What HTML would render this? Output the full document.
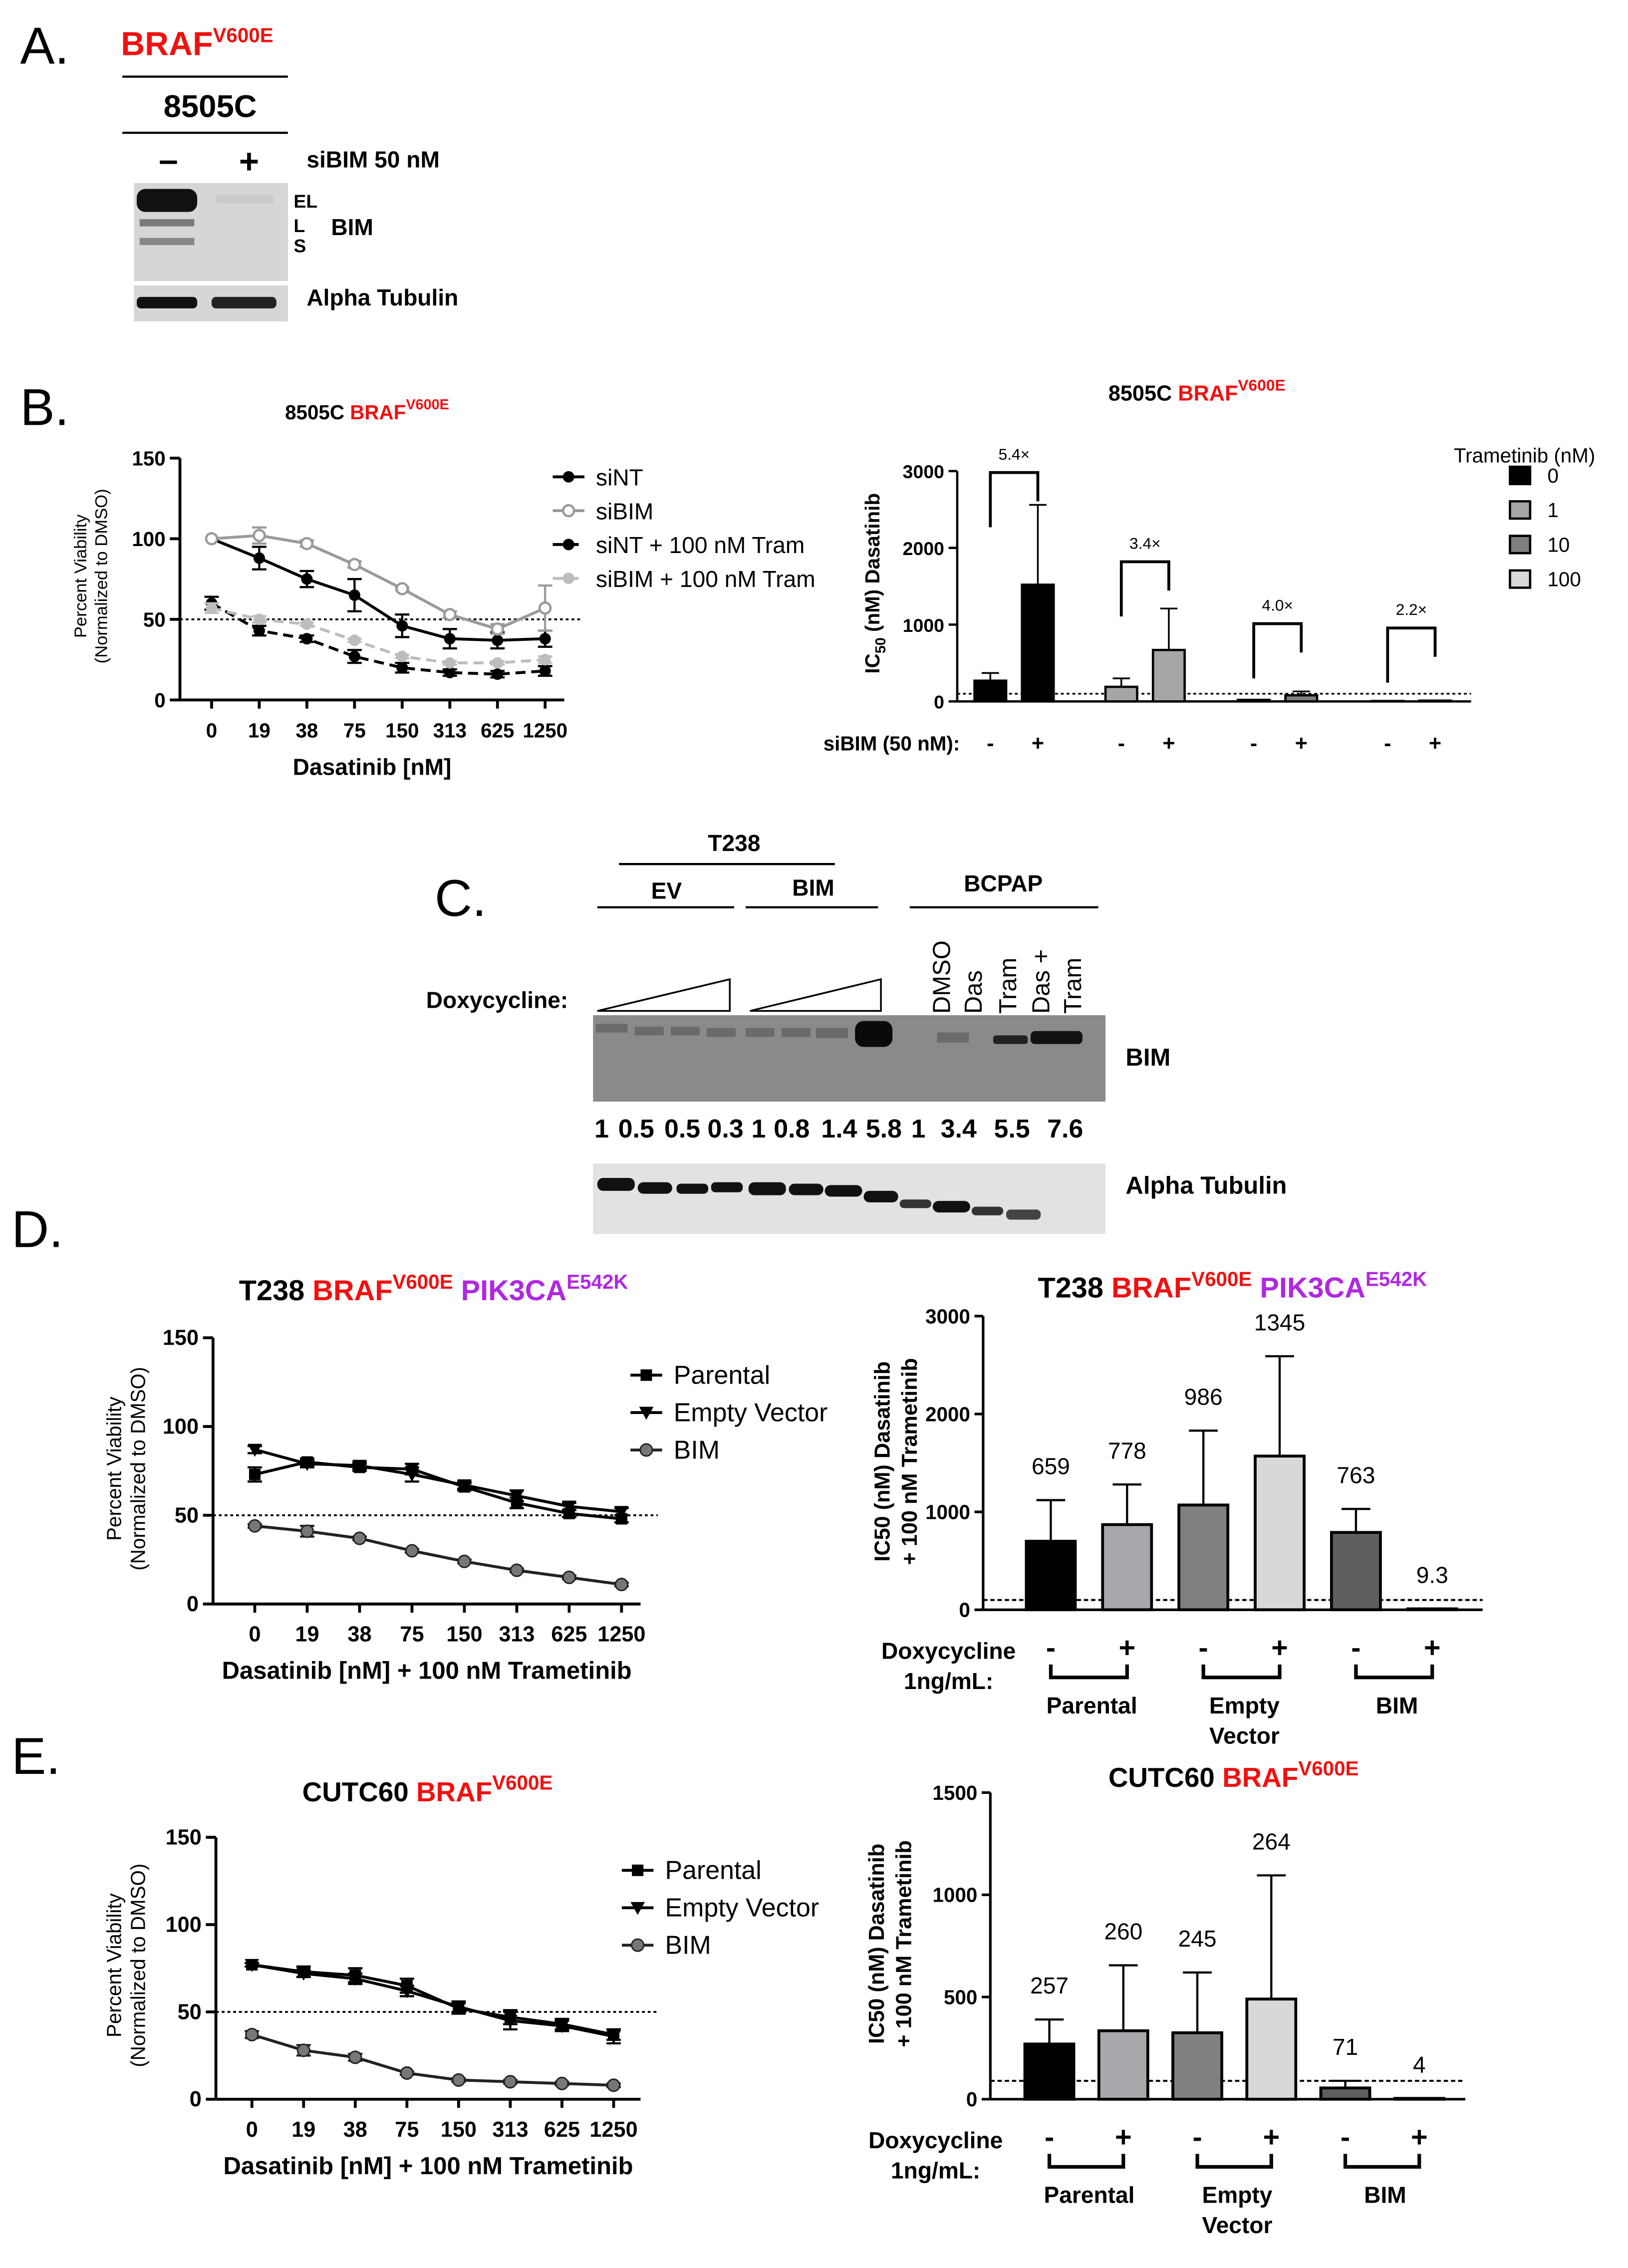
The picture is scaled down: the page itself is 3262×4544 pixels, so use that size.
<!DOCTYPE html>
<html><head><meta charset="utf-8"><style>
html,body{margin:0;padding:0;background:#fff}
svg{display:block}
text{font-family:"Liberation Sans",Arial,sans-serif}
.b{font-weight:bold}
</style></head><body>
<svg id="fig" xmlns="http://www.w3.org/2000/svg" width="3262" height="4544" viewBox="0 0 1131 1575">
<rect width="1131" height="1575" fill="#fff"/>
<!-- Panel A -->
<g>
<text x="14" y="44" font-size="36">A.</text>
<text x="84" y="38" font-size="23" class="b" fill="#f01010">BRAF<tspan font-size="14" dy="-9">V600E</tspan></text>
<line x1="85" y1="53" x2="200" y2="53" stroke="#000" stroke-width="1.5"/>
<text x="146" y="81" font-size="22" class="b" text-anchor="middle">8505C</text>
<line x1="85" y1="92" x2="200" y2="92" stroke="#000" stroke-width="1.5"/>
<text x="117" y="119" font-size="24" class="b" text-anchor="middle">–</text>
<text x="173" y="120" font-size="24" class="b" text-anchor="middle">+</text>
<text x="213" y="116" font-size="16" class="b">siBIM 50 nM</text>
<rect x="93" y="127" width="107" height="68" fill="#d6d6d6"/>
<rect x="95" y="131" width="42" height="16" rx="6" fill="#111"/>
<rect x="97" y="152" width="38" height="5" fill="#7a7a7a"/>
<rect x="97" y="165" width="38" height="5" fill="#888"/>
<rect x="150" y="135" width="40" height="6" fill="#cacaca"/>
<text x="204" y="144" font-size="13" class="b">EL</text>
<text x="204" y="161" font-size="13" class="b">L</text>
<text x="204" y="175" font-size="13" class="b">S</text>
<text x="230" y="163" font-size="16" class="b">BIM</text>
<rect x="93" y="198" width="107" height="25" fill="#d6d6d6"/>
<rect x="95" y="206" width="42" height="8" rx="3" fill="#111"/>
<rect x="147" y="206" width="45" height="8" rx="3" fill="#222"/>
<text x="213" y="212" font-size="16" class="b">Alpha Tubulin</text>
</g>
<!-- Panel B labels -->
<text x="14" y="295" font-size="36">B.</text>
<text x="198" y="291" font-size="14" class="b">8505C <tspan fill="#f01010">BRAF<tspan font-size="10" dy="-7">V600E</tspan></tspan></text>
<text x="770" y="278" font-size="15" class="b">8505C <tspan fill="#f01010">BRAF<tspan font-size="11" dy="-7">V600E</tspan></tspan></text>
<!-- Panel C -->
<g>
<text x="302" y="636" font-size="36">C.</text>
<text x="510" y="591" font-size="16" class="b" text-anchor="middle">T238</text>
<line x1="430" y1="600" x2="580" y2="600" stroke="#000" stroke-width="1.5"/>
<text x="463" y="624" font-size="16" class="b" text-anchor="middle">EV</text>
<line x1="415" y1="630" x2="510" y2="630" stroke="#000" stroke-width="1.5"/>
<text x="565" y="622" font-size="16" class="b" text-anchor="middle">BIM</text>
<line x1="518" y1="630" x2="610" y2="630" stroke="#000" stroke-width="1.5"/>
<text x="697" y="619" font-size="16" class="b" text-anchor="middle">BCPAP</text>
<line x1="632" y1="630" x2="763" y2="630" stroke="#000" stroke-width="1.5"/>
<text x="296" y="700" font-size="16" class="b">Doxycycline:</text>
<polygon points="415,702 507,702 507,680" fill="none" stroke="#000" stroke-width="1.2"/>
<polygon points="521,702 612,702 612,680" fill="none" stroke="#000" stroke-width="1.2"/>
<g font-size="17">
<text transform="translate(660,704) rotate(-90)">DMSO</text>
<text transform="translate(682,704) rotate(-90)">Das</text>
<text transform="translate(706,704) rotate(-90)">Tram</text>
<text transform="translate(729,704) rotate(-90)">Das +</text>
<text transform="translate(751,704) rotate(-90)">Tram</text>
</g>
<rect x="412" y="705" width="356" height="60" fill="#8a8a8a"/>
<g fill="#6a6a6a">
<rect x="414" y="711" width="22" height="6"/><rect x="441" y="713" width="20" height="6"/><rect x="466" y="713" width="20" height="6"/><rect x="491" y="714" width="20" height="6"/>
<rect x="518" y="714" width="20" height="6"/><rect x="543" y="714" width="20" height="6"/><rect x="567" y="714" width="22" height="7"/>
<rect x="651" y="717" width="22" height="7"/>
</g>
<rect x="594" y="709" width="26" height="18" rx="6" fill="#0a0a0a"/>
<rect x="690" y="719" width="24" height="6" rx="2" fill="#222"/>
<rect x="716" y="716" width="36" height="9" rx="3" fill="#111"/>
<g font-size="18" class="b" text-anchor="middle">
<text x="418" y="790">1</text><text x="442" y="790">0.5</text><text x="474" y="790">0.5</text><text x="504" y="790">0.3</text>
<text x="527" y="790">1</text><text x="550" y="790">0.8</text><text x="583" y="790">1.4</text><text x="614" y="790">5.8</text>
<text x="638" y="790">1</text><text x="666" y="790">3.4</text><text x="703" y="790">5.5</text><text x="740" y="790">7.6</text>
</g>
<text x="782" y="740" font-size="17" class="b">BIM</text>
<rect x="412" y="808" width="356" height="49" fill="#e2e2e2"/>
<g fill="#111">
<rect x="415" y="818" width="26" height="9" rx="4"/><rect x="443" y="821" width="24" height="8" rx="4"/><rect x="470" y="822" width="22" height="7" rx="3"/><rect x="494" y="821" width="22" height="7" rx="3"/>
<rect x="520" y="821" width="26" height="9" rx="4"/><rect x="548" y="822" width="24" height="8" rx="4"/><rect x="573" y="823" width="26" height="8" rx="4"/><rect x="600" y="827" width="24" height="8" rx="4"/>
<rect x="625" y="833" width="22" height="6" rx="3" fill="#333"/><rect x="648" y="834" width="26" height="8" rx="4"/><rect x="675" y="838" width="22" height="6" rx="3" fill="#333"/><rect x="699" y="840" width="24" height="7" rx="3" fill="#444"/>
</g>
<text x="782" y="829" font-size="17" class="b">Alpha Tubulin</text>
</g>
<!-- Panel D/E labels -->
<text x="8" y="866" font-size="36">D.</text>
<text x="166" y="903" font-size="20" class="b">T238 <tspan fill="#f01010">BRAF<tspan font-size="14" dy="-8">V600E</tspan></tspan><tspan dy="8"> </tspan><tspan fill="#b028e0">PIK3CA<tspan font-size="14" dy="-8">E542K</tspan></tspan></text>
<text x="721" y="901" font-size="20" class="b">T238 <tspan fill="#f01010">BRAF<tspan font-size="14" dy="-8">V600E</tspan></tspan><tspan dy="8"> </tspan><tspan fill="#b028e0">PIK3CA<tspan font-size="14" dy="-8">E542K</tspan></tspan></text>
<text x="8" y="1232" font-size="36">E.</text>
<text x="210" y="1251" font-size="19" class="b">CUTC60 <tspan fill="#f01010">BRAF<tspan font-size="14" dy="-8">V600E</tspan></tspan></text>
<text x="770" y="1241" font-size="19" class="b">CUTC60 <tspan fill="#f01010">BRAF<tspan font-size="14" dy="-8">V600E</tspan></tspan></text>
<g id="charts"></g>
</svg>
<script>
// ---------- DATA ----------
const doseLabels = ["0","19","38","75","150","313","625","1250"];
// Panel B left
const bSeriesNames = ["siNT","siBIM","siNT + 100 nM Tram","siBIM + 100 nM Tram"];
const bSiNT = [100,88,75,65,46,38,37,38];
const bSiBIM = [100,102,97,84,69,53,44,57];
const bSiNTTram = [60,43,38,27,20,17,16,18];
const bSiBIMTram = [57,50,47,37,27,23,23,25];
const bSiNTErr = [0,7,5,10,7,6,5,5];
const bSiBIMErr = [0,5,2,2,1,2,3,14];
const bSiNTTramErr = [4,3,2,4,3,2,2,3];
const bSiBIMTramErr = [3,2,1,1,1,1,1,2];
const bYTicks = [0,50,100,150];
// Panel B right
const bBarGroups = ["0","1","10","100"];
const bBarNeg = [270,190,20,5];
const bBarPos = [1520,670,80,10];
const bBarNegErr = [100,110,0,0];
const bBarPosErr = [1040,540,50,0];
const bFolds = ["5.4×","3.4×","4.0×","2.2×"];
const bBarTicks = [0,1000,2000,3000];
// Panel D
const legendNames = ["Parental","Empty Vector","BIM"];
const dParental = [73,80,77,76,66,57,51,48];
const dEV = [87,79,78,73,67,61,55,52];
const dBIM = [44,41,37,30,24,19,15,11];
const dParentalErr = [4,2,2,3,2,3,2,2];
const dEVErr = [2,2,2,4,2,3,2,2];
const dBIMErr = [1,3,1,1,1,1,1,1];
const dBarValues = [700,870,1070,1570,790,9.3];
const dBarErr = [420,410,760,1020,240,0];
const dBarLabels = ["659","778","986","1345","763","9.3"];
const dBarTicks = [0,1000,2000,3000];
// Panel E
const eParental = [77,73,71,65,52,47,43,37];
const eEV = [77,72,69,62,53,45,42,36];
const eBIM = [37,28,24,15,11,10,9,8];
const eParentalErr = [1,3,4,4,3,4,3,3];
const eEVErr = [1,2,3,3,3,5,3,4];
const eBIMErr = [2,3,2,1,1,1,1,1];
const eBarValues = [270,335,325,490,55,4];
const eBarErr = [120,320,295,605,35,0];
const eBarLabels = ["257","260","245","264","71","4"];
const eBarTicks = [0,500,1000,1500];
const dxSigns = ["-","+","-","+","-","+"];

const NS = "http://www.w3.org/2000/svg";
const root = document.getElementById("charts");
function mk(parent, tag, attrs, name) {
  const el = document.createElementNS(NS, tag);
  for (const k in attrs) el.setAttribute(k, attrs[k]);
  
  
  parent.appendChild(el);
  return el;
}
function txt(parent, x, y, s, size, name, opts) {
  const a = Object.assign({x: x, y: y, "font-size": size}, opts || {});
  const t = mk(parent, "text", a, name);
  t.textContent = s;
  return t;
}
function marker(g, shape, x, y, color, name) {
  if (shape === "circle") mk(g, "circle", {cx: x, cy: y, r: 4, fill: color}, name);
  else if (shape === "open") mk(g, "circle", {cx: x, cy: y, r: 3.8, fill: "#fff", stroke: color, "stroke-width": 1.6}, name);
  else if (shape === "square") mk(g, "rect", {x: x-4, y: y-4, width: 8, height: 8, fill: color}, name);
  else if (shape === "tri") mk(g, "polygon", {points: (x-5)+","+(y-4)+" "+(x+5)+","+(y-4)+" "+x+","+(y+5), fill: color}, name);
  else if (shape === "gcircle") { mk(g, "circle", {cx: x, cy: y, r: 4.2, fill: "#777", stroke: "#222", "stroke-width": 1}, name); }
}

function lineChart(cfg) {
  const g = mk(root, "g", {}, cfg.name);
  const xS = i => cfg.x0 + i * cfg.dx;
  const yS = v => cfg.y0 - v * cfg.ky;
  mk(g, "line", {x1: cfg.ax, y1: yS(150), x2: cfg.ax, y2: cfg.y0, stroke: "#000", "stroke-width": 2}, "y-axis");
  mk(g, "line", {x1: cfg.ax, y1: cfg.y0, x2: cfg.axEnd, y2: cfg.y0, stroke: "#000", "stroke-width": 2}, "x-axis");
  bYTicks.forEach(t => {
    mk(g, "line", {x1: cfg.ax - 7, y1: yS(t), x2: cfg.ax, y2: yS(t), stroke: "#000", "stroke-width": 2}, "y-tick");
    txt(g, cfg.ax - 10, yS(t) + 5, String(t), cfg.tf, "y-tick-label", {"text-anchor": "end", "font-weight": "bold"});
  });
  doseLabels.forEach((l, i) => {
    mk(g, "line", {x1: xS(i), y1: cfg.y0, x2: xS(i), y2: cfg.y0 + 6, stroke: "#000", "stroke-width": 2}, "x-tick");
    txt(g, xS(i), cfg.y0 + 26, l, cfg.tf, "x-tick-label", {"text-anchor": "middle", "font-weight": "bold"});
  });
  mk(g, "line", {x1: cfg.ax, y1: yS(50), x2: cfg.axEnd + 12, y2: yS(50), stroke: "#000", "stroke-width": 1.3, "stroke-dasharray": "2,2"}, "threshold-line-50");
  txt(g, (cfg.ax + cfg.axEnd) / 2, cfg.y0 + 52, cfg.xlabel, cfg.xf, "x-axis-title", {"text-anchor": "middle", "font-weight": "bold"});
  const yl = mk(g, "text", {transform: "translate(" + cfg.ylx + "," + cfg.yly + ") rotate(-90)", "font-size": cfg.yf, "text-anchor": "middle"}, "y-axis-title");
  yl.innerHTML = '<tspan x="0" dy="0">Percent Viability</tspan><tspan x="0" dy="' + (cfg.yf * 1.2) + '">(Normalized to DMSO)</tspan>';
  cfg.series.forEach((s, si) => {
    const sg = mk(g, "g", {}, "series-" + s.key);
    const pts = s.vals.map((v, i) => xS(i) + "," + yS(v)).join(" ");
    mk(sg, "polyline", {points: pts, fill: "none", stroke: s.color, "stroke-width": 2, "stroke-dasharray": s.dash || "none"}, "series-line");
    s.vals.forEach((v, i) => {
      const e = s.err[i];
      if (e > 0) {
        mk(sg, "line", {x1: xS(i), y1: yS(v + e), x2: xS(i), y2: yS(v - e), stroke: s.color, "stroke-width": 1.5}, "error-bar");
        mk(sg, "line", {x1: xS(i) - 5, y1: yS(v + e), x2: xS(i) + 5, y2: yS(v + e), stroke: s.color, "stroke-width": 1.5}, "error-cap");
        mk(sg, "line", {x1: xS(i) - 5, y1: yS(v - e), x2: xS(i) + 5, y2: yS(v - e), stroke: s.color, "stroke-width": 1.5}, "error-cap");
      }
      marker(sg, s.shape, xS(i), yS(v), s.color, "data-point");
    });
    const ly = cfg.legY + si * cfg.legDy;
    const lg = mk(g, "g", {}, "legend-entry");
    mk(lg, "line", {x1: cfg.legX, y1: ly, x2: cfg.legX + 22, y2: ly, stroke: s.color, "stroke-width": 2, "stroke-dasharray": s.dash || "none"}, "legend-line");
    marker(lg, s.shape, cfg.legX + 11, ly, s.color, "legend-marker");
    txt(lg, cfg.legX + 30, ly + 6, s.name, cfg.lf, "legend-label");
  });
}

lineChart({name: "b-viability-chart", x0: 147, dx: 33.1, y0: 486, ky: 1.12, ax: 125, axEnd: 392, tf: 14, xf: 16, yf: 12, ylx: 60, yly: 400,
  xlabel: "Dasatinib [nM]", legX: 384, legY: 331, legDy: 23.5, lf: 16,
  series: [
    {key: "sint", name: bSeriesNames[0], vals: bSiNT, err: bSiNTErr, color: "#000", shape: "circle"},
    {key: "sibim", name: bSeriesNames[1], vals: bSiBIM, err: bSiBIMErr, color: "#9a9a9a", shape: "open"},
    {key: "sint-tram", name: bSeriesNames[2], vals: bSiNTTram, err: bSiNTTramErr, color: "#000", shape: "circle", dash: "7,4"},
    {key: "sibim-tram", name: bSeriesNames[3], vals: bSiBIMTram, err: bSiBIMTramErr, color: "#bdbdbd", shape: "circle", dash: "7,4"}
  ]});
lineChart({name: "d-viability-chart", x0: 177, dx: 36.4, y0: 1114, ky: 1.233, ax: 148, axEnd: 445, tf: 15, xf: 17, yf: 14, ylx: 84, yly: 1020,
  xlabel: "Dasatinib [nM] + 100 nM Trametinib", legX: 438, legY: 955, legDy: 26, lf: 18,
  series: [
    {key: "parental", name: legendNames[0], vals: dParental, err: dParentalErr, color: "#000", shape: "square"},
    {key: "empty-vector", name: legendNames[1], vals: dEV, err: dEVErr, color: "#000", shape: "tri"},
    {key: "bim", name: legendNames[2], vals: dBIM, err: dBIMErr, color: "#222", shape: "gcircle"}
  ]});
lineChart({name: "e-viability-chart", x0: 175, dx: 35.9, y0: 1458, ky: 1.213, ax: 150, axEnd: 445, tf: 15, xf: 17, yf: 14, ylx: 84, yly: 1365,
  xlabel: "Dasatinib [nM] + 100 nM Trametinib", legX: 432, legY: 1299, legDy: 26, lf: 18,
  series: [
    {key: "parental", name: legendNames[0], vals: eParental, err: eParentalErr, color: "#000", shape: "square"},
    {key: "empty-vector", name: legendNames[1], vals: eEV, err: eEVErr, color: "#000", shape: "tri"},
    {key: "bim", name: legendNames[2], vals: eBIM, err: eBIMErr, color: "#222", shape: "gcircle"}
  ]});

// ---------- Panel B bar chart ----------
(function () {
  const g = mk(root, "g", {}, "b-ic50-bar-chart");
  const y0 = 487, k = 160 / 3000, ax = 665;
  const yS = v => y0 - v * k;
  const colors = ["#000", "#a6a6a6", "#7f7f7f", "#d9d9d9"];
  const gx = [688, 779, 871, 964];
  const pairDx = 33;
  mk(g, "line", {x1: ax, y1: yS(3000), x2: ax, y2: y0, stroke: "#000", "stroke-width": 1.6}, "y-axis");
  mk(g, "line", {x1: ax, y1: y0, x2: 1022, y2: y0, stroke: "#000", "stroke-width": 1.6}, "x-axis");
  bBarTicks.forEach(t => {
    mk(g, "line", {x1: ax - 6, y1: yS(t), x2: ax, y2: yS(t), stroke: "#000", "stroke-width": 1.6}, "y-tick");
    txt(g, ax - 9, yS(t) + 5, String(t), 13, "y-tick-label", {"text-anchor": "end", "font-weight": "bold"});
  });
  const yl = mk(g, "text", {transform: "translate(611,405) rotate(-90)", "font-size": 14, "text-anchor": "middle", "font-weight": "bold"}, "y-axis-title");
  yl.innerHTML = 'IC<tspan font-size="10" dy="4">50</tspan><tspan dy="-4"> (nM) Dasatinib</tspan>';
  mk(g, "line", {x1: ax, y1: yS(100), x2: 1022, y2: yS(100), stroke: "#000", "stroke-width": 1.2, "stroke-dasharray": "2,2"}, "reference-line");
  txt(g, 572, 521, "siBIM (50 nM):", 14, "sibim-axis-label", {"font-weight": "bold"});
  const bracketTops = [328, 390, 433, 436];
  bBarGroups.forEach((grp, i) => {
    const vals = [bBarNeg[i], bBarPos[i]];
    const errs = [bBarNegErr[i], bBarPosErr[i]];
    vals.forEach((v, j) => {
      const cx = gx[i] + j * pairDx;
      const e = errs[j];
      if (e > 0) {
        mk(g, "line", {x1: cx, y1: yS(v + e), x2: cx, y2: yS(v), stroke: "#000", "stroke-width": 1.2}, "error-bar");
        mk(g, "line", {x1: cx - 6, y1: yS(v + e), x2: cx + 6, y2: yS(v + e), stroke: "#000", "stroke-width": 1.2}, "error-cap");
      }
      mk(g, "rect", {x: cx - 11, y: yS(v), width: 22, height: v * k, fill: colors[i], stroke: "#000", "stroke-width": 1.6}, "bar-trametinib-" + grp + (j ? "-sibim" : "-sint"));
      txt(g, cx, 521, j ? "+" : "-", 15, "sibim-sign", {"text-anchor": "middle", "font-weight": "bold"});
    });
    const bt = bracketTops[i];
    mk(g, "polyline", {points: gx[i] + "," + (bt + 38) + " " + gx[i] + "," + bt + " " + (gx[i] + pairDx) + "," + bt + " " + (gx[i] + pairDx) + "," + (bt + 20), fill: "none", stroke: "#000", "stroke-width": 2}, "fold-bracket");
    txt(g, gx[i] + pairDx / 2, bt - 9, bFolds[i], 11, "fold-change-label", {"text-anchor": "middle"});
  });
  txt(g, 1010, 321, "Trametinib (nM)", 14, "legend-title");
  bBarGroups.forEach((grp, i) => {
    const lg = mk(g, "g", {}, "legend-entry");
    mk(lg, "rect", {x: 1049, y: 330 + i * 24 - 6, width: 14, height: 12, fill: colors[i], stroke: "#000", "stroke-width": 1.6}, "legend-swatch");
    txt(lg, 1075, 330 + i * 24 + 5, grp, 14, "legend-label");
  });
})();

// ---------- Bar charts D & E ----------
function barChart(cfg) {
  const g = mk(root, "g", {}, cfg.name);
  const yS = v => cfg.y0 - v * cfg.k;
  const colors = ["#000", "#a8a8ac", "#808080", "#d8d8d8", "#5e5e5e", "#c0c0c0"];
  mk(g, "line", {x1: cfg.ax, y1: yS(cfg.ticks[cfg.ticks.length - 1]), x2: cfg.ax, y2: cfg.y0, stroke: "#000", "stroke-width": 1.8}, "y-axis");
  mk(g, "line", {x1: cfg.ax, y1: cfg.y0, x2: cfg.axEnd, y2: cfg.y0, stroke: "#000", "stroke-width": 1.8}, "x-axis");
  cfg.ticks.forEach(t => {
    mk(g, "line", {x1: cfg.ax - 6, y1: yS(t), x2: cfg.ax, y2: yS(t), stroke: "#000", "stroke-width": 1.8}, "y-tick");
    txt(g, cfg.ax - 9, yS(t) + 5, String(t), 14, "y-tick-label", {"text-anchor": "end", "font-weight": "bold"});
  });
  const yl = mk(g, "text", {transform: "translate(" + cfg.ylx + "," + cfg.yly + ") rotate(-90)", "font-size": 15, "text-anchor": "middle", "font-weight": "bold"}, "y-axis-title");
  yl.innerHTML = '<tspan x="0" dy="0">IC50 (nM) Dasatinib</tspan><tspan x="0" dy="19">+ 100 nM Trametinib</tspan>';
  mk(g, "line", {x1: cfg.ax, y1: yS(cfg.ref), x2: cfg.axEnd, y2: yS(cfg.ref), stroke: "#000", "stroke-width": 1.4, "stroke-dasharray": "3,2"}, "reference-line");
  cfg.vals.forEach((v, i) => {
    const cx = cfg.x0 + i * cfg.dx;
    const e = cfg.err[i];
    if (e > 0) {
      mk(g, "line", {x1: cx, y1: yS(v + e), x2: cx, y2: yS(v), stroke: "#000", "stroke-width": 1.5}, "error-bar");
      mk(g, "line", {x1: cx - 10, y1: yS(v + e), x2: cx + 10, y2: yS(v + e), stroke: "#000", "stroke-width": 1.5}, "error-cap");
    }
    mk(g, "rect", {x: cx - 17, y: yS(v), width: 34, height: v * cfg.k, fill: colors[i], stroke: "#000", "stroke-width": 2}, "bar-" + i);
    txt(g, cx, yS(v + e) - 18, cfg.labels[i], 16, "bar-value-label", {"text-anchor": "middle"});
    txt(g, cx, cfg.y0 + 33, dxSigns[i], 20, "doxycycline-sign", {"text-anchor": "middle", "font-weight": "bold"});
  });
  txt(g, cfg.doxX, cfg.y0 + 34, "Doxycycline", 16, "doxycycline-label", {"text-anchor": "middle", "font-weight": "bold"});
  txt(g, cfg.doxX, cfg.y0 + 55, "1ng/mL:", 16, "doxycycline-unit", {"text-anchor": "middle", "font-weight": "bold"});
  const groups = [["Parental"], ["Empty", "Vector"], ["BIM"]];
  groups.forEach((gl, j) => {
    const a = cfg.x0 + 2 * j * cfg.dx, b = a + cfg.dx;
    const by = cfg.y0 + 47;
    mk(g, "polyline", {points: a + "," + (by - 9) + " " + a + "," + by + " " + b + "," + by + " " + b + "," + (by - 9), fill: "none", stroke: "#000", "stroke-width": 2.5}, "group-bracket");
    gl.forEach((s, m) => txt(g, (a + b) / 2 + 2, by + 25 + m * 21, s, 16, "group-label", {"text-anchor": "middle", "font-weight": "bold"}));
  });
}
barChart({name: "d-ic50-bar-chart", x0: 730, dx: 53, y0: 1118, k: 68 / 1000, ax: 683, axEnd: 1030, ticks: dBarTicks, vals: dBarValues, err: dBarErr, labels: dBarLabels, ref: 100, ylx: 618, yly: 1015, doxX: 659});
barChart({name: "e-ic50-bar-chart", x0: 729, dx: 51.4, y0: 1458, k: 213 / 1500, ax: 688, axEnd: 1018, ticks: eBarTicks, vals: eBarValues, err: eBarErr, labels: eBarLabels, ref: 90, ylx: 614, yly: 1350, doxX: 650});
</script>
</body></html>
